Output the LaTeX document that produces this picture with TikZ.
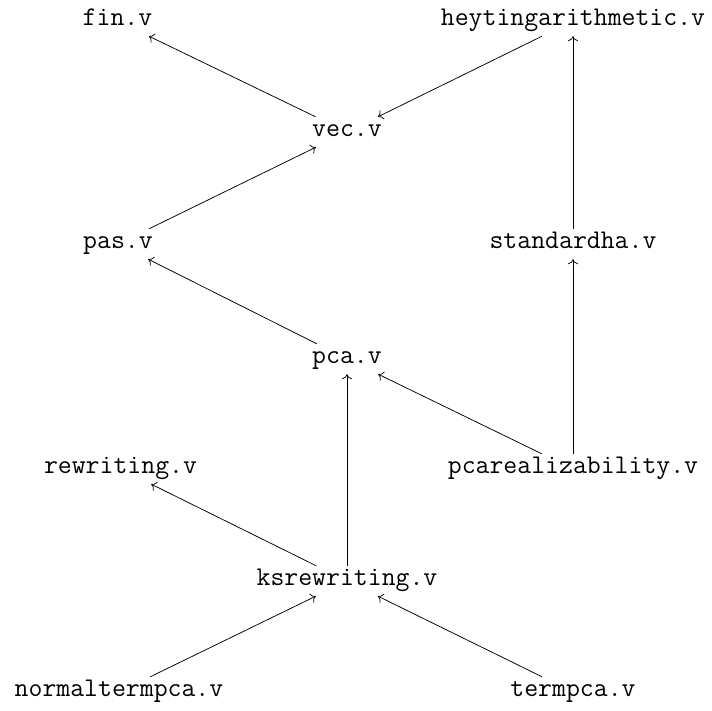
\documentclass[tikz,border=0pt]{standalone}
\usetikzlibrary{arrows.meta}
\begin{document}
\begin{tikzpicture}[x=1pt,y=1pt,
  file/.style={anchor=base, font=\fontsize{27}{30}\selectfont\ttfamily,
    text height=14pt, text depth=4pt, inner xsep=2pt, inner ysep=6pt},
  dep/.style={-{To[length=5pt,width=10pt]}, line width=0.75pt}]
\useasboundingbox (0,0) rectangle (712,711);
\node[file] (fin) at (117.5,685) {fin.v};
\node[file] (hey) at (573,685) {heytingarithmetic.v};
\node[file] (vec) at (347,574) {vec.v};
\node[file] (pas) at (118,462) {pas.v};
\node[file] (sha) at (573,462) {standardha.v};
\node[file] (pca) at (347,347) {pca.v};
\node[file] (rew) at (120.5,237) {rewriting.v};
\node[file] (pcr) at (573,237) {pcarealizability.v};
\node[file] (ksr) at (347,125) {ksrewriting.v};
\node[file] (ntp) at (119,14) {normaltermpca.v};
\node[file] (tpc) at (573,14) {termpca.v};
\draw[dep] (vec) -- (fin);
\draw[dep] (hey) -- (vec);
\draw[dep] (pas) -- (vec);
\draw[dep] (sha) -- (hey);
\draw[dep] (pca) -- (pas);
\draw[dep] (pcr) -- (pca);
\draw[dep] (pcr) -- (sha);
\draw[dep] (ksr) -- (pca);
\draw[dep] (ksr) -- (rew);
\draw[dep] (ntp) -- (ksr);
\draw[dep] (tpc) -- (ksr);
\end{tikzpicture}
\end{document}
